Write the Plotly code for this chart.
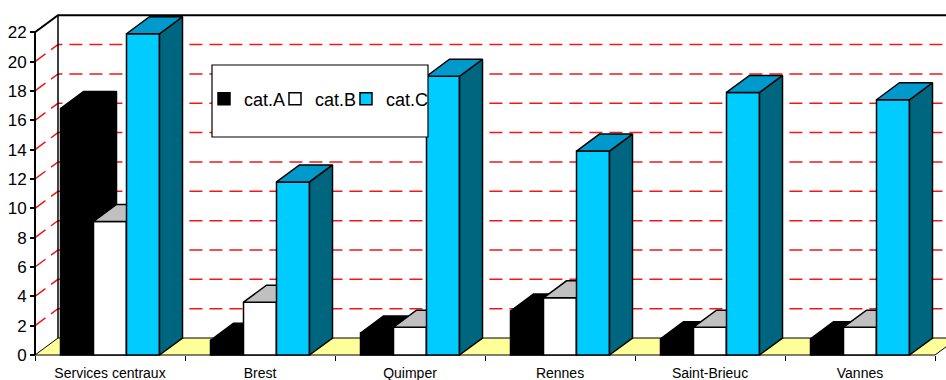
import plotly.graph_objects as go

# ---------------- data ----------------
categories = ["Services centraux", "Brest", "Quimper", "Rennes", "Saint-Brieuc", "Vannes"]
series_names = ["cat.A", "cat.B", "cat.C"]
cat_a = [16.8, 1.0, 1.5, 3.0, 1.1, 1.1]
cat_b = [9.1, 3.6, 1.9, 3.9, 1.9, 1.9]
cat_c = [21.9, 11.8, 19.0, 13.9, 17.9, 17.4]
y_ticks = list(range(0, 23, 2))

# ---------------- style ----------------
front_col = ["#000000", "#FFFFFF", "#00CCFF"]
top_col = ["#000000", "#C0C0C0", "#0099CC"]
side_col = ["#000000", "#969696", "#006680"]
FLOOR = "#FFFF99"
GRID = "#F01818"
FONT = "Liberation Sans, Arial, sans-serif"

W, H = 946, 380
ML, MR, MT, MB = 25, 0, 14, 23
plot_w = W - ML - MR
plot_h = H - MT - MB
X_PX = 150.0      # px per category
Y_PX = 14.67      # px per value unit
AXIS_PX = 35      # px of front axis
BASE_PX = 355     # px of zero line
DEPTH_X, DEPTH_Y = 23, 17  # 3-D depth offset in px

x0 = -0.5 - (AXIS_PX - ML) / X_PX
x1 = x0 + plot_w / X_PX
y0 = -((H - MB) - BASE_PX) / Y_PX
y1 = y0 + plot_h / Y_PX
DX = DEPTH_X / X_PX
DY = DEPTH_Y / Y_PX
BAR_W = 0.22
offsets = [-0.33, -0.11, 0.11]
n = len(categories)
xl = -0.5
xr = n - 0.5

fig = go.Figure()

# ---------------- walls / floor (base subplot) ----------------
fig.add_trace(go.Scatter(
    x=[xl, xr, xr + DX, xl + DX, xl], y=[0, 0, DY, DY, 0],
    mode="lines", fill="toself", fillcolor=FLOOR,
    line=dict(color="black", width=1), hoverinfo="skip", showlegend=False))

gx, gy = [], []
for v in y_ticks[1:-1]:
    gx += [xl, xl + DX, x1 + 1, None]
    gy += [v, v + DY, v + DY, None]
fig.add_trace(go.Scatter(x=gx, y=gy, mode="lines",
                         line=dict(color=GRID, width=1.5, dash="13px,7px"),
                         hoverinfo="skip", showlegend=False))
# back wall left edge
fig.add_trace(go.Scatter(x=[xl + DX, xl + DX], y=[DY, y_ticks[-1] + DY], mode="lines",
                         line=dict(color="black", width=1.5), hoverinfo="skip", showlegend=False))
# top edge of walls + front axis line
fig.add_trace(go.Scatter(x=[xl, xl, xl + DX, x1 + 1], y=[0, y_ticks[-1], y_ticks[-1] + DY, y_ticks[-1] + DY],
                         mode="lines", line=dict(color="black", width=2),
                         hoverinfo="skip", showlegend=False))

# ---------------- bars ----------------
legend_ids = ["legend", "legend2", "legend3"]
series = [cat_a, cat_b, cat_c]
for k, vals in enumerate(series):
    ax = str(k + 2)
    fig.add_trace(go.Bar(
        x=list(range(n)), y=vals, width=BAR_W, offset=offsets[k],
        marker=dict(color=front_col[k], line=dict(color="black", width=1.5)),
        name=series_names[k], xaxis="x" + ax, yaxis="y" + ax, legend=legend_ids[k]))
    sx, sy, tx, ty = [], [], [], []
    for i, v in enumerate(vals):
        L = i + offsets[k]
        R = L + BAR_W
        sx += [R, R, R + DX, R + DX, R, None]
        sy += [0, v, v + DY, DY, 0, None]
        tx += [L, R, R + DX, L + DX, L, None]
        ty += [v, v, v + DY, v + DY, v, None]
    fig.add_trace(go.Scatter(x=sx, y=sy, mode="lines", fill="toself", fillcolor=side_col[k],
                             line=dict(color="black", width=1.5), hoverinfo="skip",
                             showlegend=False, xaxis="x" + ax, yaxis="y" + ax))
    fig.add_trace(go.Scatter(x=tx, y=ty, mode="lines", fill="toself", fillcolor=top_col[k],
                             line=dict(color="black", width=1.5), hoverinfo="skip",
                             showlegend=False, xaxis="x" + ax, yaxis="y" + ax))

pos_x = ((H - MB) - BASE_PX) / plot_h
pos_y = (AXIS_PX - ML) / plot_w
common = dict(showgrid=False, zeroline=False, showline=False, fixedrange=True, automargin=False)

legend_left_px = [204, 275, 346]
legends = {}
for k, lid in enumerate(legend_ids):
    legends[lid] = dict(orientation="h", x=(legend_left_px[k] - ML) / plot_w,
                        y=1 - (99 - MT) / plot_h, xanchor="left", yanchor="middle",
                        bgcolor="rgba(0,0,0,0)", borderwidth=0,
                        font=dict(size=18), itemwidth=30)

layout = dict(
    width=W, height=H,
    margin=dict(l=ML, r=MR, t=MT, b=MB, autoexpand=False),
    paper_bgcolor="white", plot_bgcolor="white",
    barmode="overlay",
    font=dict(family=FONT, color="black"),
    xaxis=dict(range=[x0, x1], anchor="free", position=pos_x,
               tickmode="array", tickvals=[i - 0.5 for i in range(n + 1)],
               ticks="outside", ticklen=5, tickcolor="black", tickwidth=1,
               showticklabels=False, **common),
    yaxis=dict(range=[y0, y1], anchor="free", position=pos_y,
               tickmode="array", tickvals=y_ticks, ticktext=[str(v) for v in y_ticks],
               ticks="outside", ticklen=5, tickcolor="black", tickwidth=1.5,
               tickfont=dict(size=17), **common),
    xaxis2=dict(range=[x0, x1], overlaying="x", anchor="free", position=pos_x,
                tickmode="array", tickvals=list(range(n)), ticktext=categories,
                ticks="", ticklabelstandoff=8, tickfont=dict(size=14), **common),
    yaxis2=dict(range=[y0, y1], overlaying="y", visible=False, **common),
    xaxis3=dict(range=[x0, x1], overlaying="x", anchor="y3", visible=False, **common),
    yaxis3=dict(range=[y0, y1], overlaying="y", anchor="x3", visible=False, **common),
    xaxis4=dict(range=[x0, x1], overlaying="x", anchor="y4", visible=False, **common),
    yaxis4=dict(range=[y0, y1], overlaying="y", anchor="x4", visible=False, **common),
    shapes=[dict(type="rect", xref="paper", yref="paper",
                 x0=(212 - ML) / plot_w, x1=(428 - ML) / plot_w,
                 y0=1 - (137 - MT) / plot_h, y1=1 - (65 - MT) / plot_h,
                 line=dict(color="black", width=1.2), fillcolor="white", layer="above")],
    **legends,
)
fig.update_layout(**layout)
fig.write_html("out.html")
